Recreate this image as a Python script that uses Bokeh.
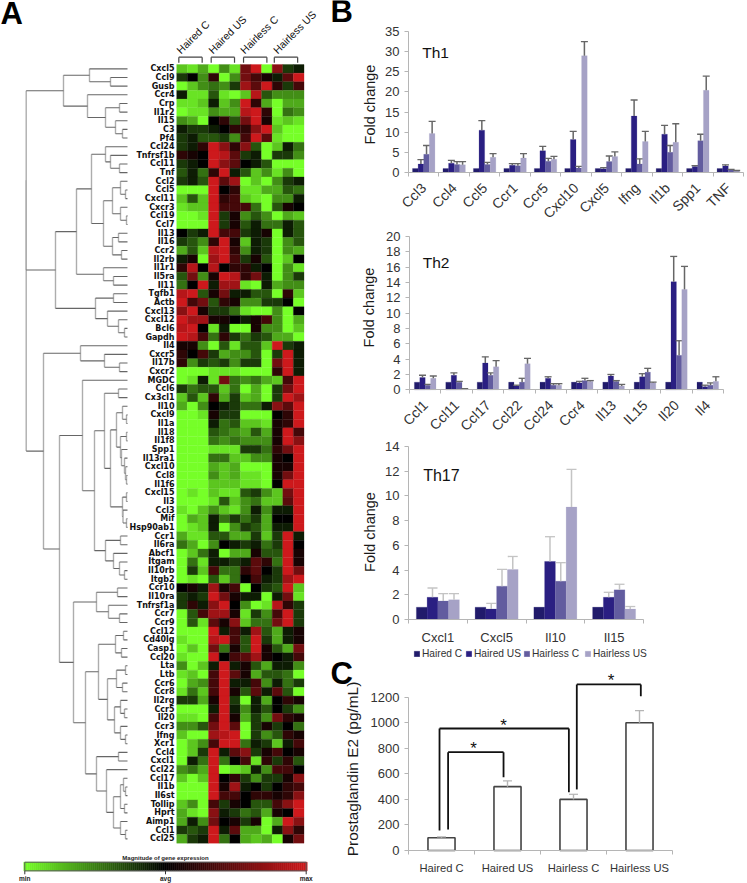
from bokeh.embed import file_html
from bokeh.resources import INLINE
from bokeh.core.properties import value
from bokeh.layouts import row, column
from bokeh.models import Range1d, FixedTicker, Label, Legend, LegendItem
from bokeh.plotting import figure

genes = ["Cxcl5","Ccl9","Gusb","Ccr4","Crp","Il1r2","Il15","C3","Pf4","Ccl24","Tnfrsf1b","Ccl11","Tnf","Ccl2","Ccl5",
 "Cxcl11","Cxcr3","Ccl19","Ccl7","Il13","Il16","Ccr2","Il2rb","Il1r1","Il5ra","Il11","Tgfb1","Actb","Cxcl13","Cxcl12",
 "Bcl6","Gapdh","Il4","Cxcr5","Il17b","Cxcr2","MGDC","Ccl6","Cx3cl1","Il10","Cxcl9","Il1a","Il18","Il1f8","Spp1",
 "Il13ra1","Cxcl10","Ccl8","Il1f6","Cxcl15","Il3","Ccl3","Mif","Hsp90ab1","Ccr1","Il6ra","Abcf1","Itgam","Il10rb","Itgb2",
 "Ccr10","Il10ra","Tnfrsf1a","Ccr7","Ccr9","Ccl12","Cd40lg","Casp1","Ccl20","Lta","Ltb","Ccr6","Ccr8","Il2rg","Ccr5",
 "Il20","Ccr3","Ifng","Xcr1","Ccl4","Cxcl1","Ccl22","Ccl17","Il1b","Il6st","Tollip","Hprt","Aimp1","Ccl1","Ccl25"]

heat_values = [
[-7,-8,-6,-9,-5,-8,5,9,-9,6,-2,-1],[-2,0,-5,2,-9,-5,5,3,1,-1,4,9],[-9,-7,-5,-4,-5,-2,7,4,9,2,-2,3],
[-1,-8,-8,-3,-8,-9,-7,8,-3,-5,-5,-5],[-8,-8,-7,-1,-7,-5,9,2,-6,-9,-6,-6],[-9,-8,-8,-5,-6,-6,8,9,2,-9,-4,-5],
[-5,-6,-9,0,2,-3,5,9,1,-8,-7,-8],[-1,-2,-2,-1,0,2,2,6,9,-7,-9,-9],[-2,-1,-3,-3,-2,-5,3,9,4,-8,-9,-9],
[-2,-1,2,9,6,2,6,-3,-9,-7,-1,-4],[2,1,0,9,8,4,-2,-1,-9,-2,-2,-5],[-2,-1,0,9,6,4,0,-1,-3,-9,-9,-9],
[-3,-1,-4,2,9,-1,-3,-7,-5,-8,-5,-9],[-2,-1,-3,9,4,7,-9,-7,-9,-5,-2,-1],[-9,-9,-9,9,0,2,-8,-8,-6,-6,-3,-4],
[-7,-3,-7,9,2,3,-7,-8,-9,-5,-5,-1],[-8,-7,-7,9,3,3,3,-4,-9,-3,1,0],[-9,-9,-8,9,-2,1,-5,-3,-5,-9,-6,-7],
[-9,-9,-9,9,-2,1,-3,-1,-4,-4,-1,-3],[0,-2,-1,9,3,3,-2,-1,1,-9,-1,-3],[-2,-3,-5,2,9,1,-7,-1,-2,-9,-5,-3],
[-6,-3,-7,8,9,2,-5,-1,-2,-9,-5,-6],[-1,1,-9,7,9,3,-2,1,-3,-9,-7,0],[2,8,0,8,0,2,2,-1,0,-9,-5,-8],
[-3,5,-5,1,9,8,2,5,-1,-9,-5,-2],[-4,0,9,-1,7,7,-8,-9,-1,-6,-5,-5],[8,9,-3,1,5,-1,-1,-3,-3,-9,2,-7],
[9,3,5,-3,2,1,-5,-5,-2,-2,0,-9],[6,9,1,-2,-2,-4,-8,-9,-9,-5,-9,0],[9,7,7,1,1,0,-1,1,3,-5,-9,-6],
[8,9,0,-8,-1,-9,-9,1,-5,-5,-9,-7],[9,8,3,-4,2,-2,-4,-2,-3,-6,-6,-9],[1,1,-5,-9,-3,-8,-3,-3,-7,9,-2,-1],
[2,0,3,-2,-6,-5,-5,-3,-9,-2,9,-1],[2,-5,-2,-3,-2,-5,-2,-2,-9,5,9,-1],[-9,-9,-9,-8,-8,-8,-9,-9,-9,2,9,-1],
[-9,-8,-1,-8,5,-4,-5,-4,-6,-7,3,9],[-2,-4,-3,-3,-7,-4,-9,-6,-9,-2,5,9],[-7,-3,-7,2,-6,-2,-7,-6,-9,-2,9,7],
[-6,-9,-5,0,-1,-2,-4,-4,-1,6,4,9],[-9,-9,-8,1,-2,-2,-9,-9,-9,0,2,9],[-9,-9,-9,-1,-4,-3,-7,-7,-8,1,2,9],
[-9,-9,-9,-3,-4,-5,-6,-3,-6,1,9,3],[-9,-9,-9,-4,-5,-4,-5,-5,-5,1,9,6],[-9,-9,-9,-8,-8,-8,-2,-2,-4,2,5,9],
[-9,-9,-9,-4,-4,-7,-7,-5,-5,1,0,9],[-9,-9,-9,-6,-7,-6,-9,-9,-9,1,1,9],[-9,-9,-9,-5,-7,-6,-8,-8,-9,1,5,9],
[-9,-9,-9,-7,-7,-7,-8,-8,-9,0,9,9],[-9,-8,-9,-7,-8,-8,-3,-2,-5,-7,5,9],[-9,-9,-9,-8,-3,-7,-5,-4,-7,-7,4,9],
[-8,-9,-7,-5,-7,-8,-5,-1,-5,-1,-1,9],[-9,-6,-7,-1,-4,-2,-4,-2,-6,0,0,9],[-9,-8,-7,-1,-9,-5,-2,-3,-6,-1,-1,9],
[-6,-8,-8,-3,-3,-6,-6,-2,-7,-2,9,-1],[-4,-6,-9,-5,0,-1,-2,-1,-4,-2,9,0],[-9,-7,-4,-1,-9,-6,-6,1,-3,-3,9,1],
[-9,-4,-8,-1,-1,-2,-1,4,2,-4,9,1],[-9,-2,-7,3,-4,-4,2,4,0,-2,9,5],[-9,-8,-9,-3,-7,-4,0,3,-1,-2,7,9],
[0,1,-1,7,1,3,-9,0,-2,-3,9,-7],[-2,-1,-2,9,5,1,-1,-1,-9,-1,5,-8],[-2,2,-1,6,9,0,-5,-9,-8,8,2,-2],
[-9,-3,3,7,7,1,-8,-2,-5,3,9,-2],[-9,-3,-8,4,1,6,-7,-4,-4,5,9,-2],[-9,-9,-9,9,-1,3,-1,7,-3,-6,-1,1],
[-8,-9,-9,8,9,3,-3,9,-2,-6,-1,1],[-9,-7,-9,5,-4,1,-3,9,1,-3,-6,5],[-8,-9,-9,9,0,3,4,7,1,0,-1,3],
[-5,-9,-7,-1,9,-1,1,-3,-6,-1,-1,-5],[-8,-7,-9,3,9,4,1,-6,-3,-3,-4,-9],[-9,-6,-5,3,9,-1,-1,3,-5,-1,-4,-2],
[-8,-4,-7,3,9,1,-3,4,-1,4,-3,-9],[-2,-2,-6,1,9,-2,-9,-1,-6,0,2,1],[-9,-9,-9,-1,9,-1,-5,-1,-3,0,-2,-5],
[-8,-8,-9,3,9,1,-6,-2,-5,5,2,1],[-5,-5,-3,5,9,4,-9,-2,1,-2,0,-4],[-7,-9,-9,7,8,9,-9,-2,-5,-3,2,1],
[-9,-7,-5,3,9,9,-4,-1,-2,-7,-1,3],[-9,-7,-2,9,-1,4,6,-2,1,3,0,1],[-9,-1,-4,9,-4,0,3,-8,2,-2,2,-3],
[-5,-4,-6,9,-9,-8,-7,-1,-5,3,3,0],[-7,-9,-7,9,0,2,-2,-5,-2,-2,1,6],[-9,-9,-9,9,1,7,-1,0,-2,0,2,3],
[-9,-9,-9,9,3,3,0,2,2,1,2,6],[-7,-5,-9,3,-2,1,0,-3,-3,3,6,9],[-6,-8,-9,6,-1,-2,-4,-3,-6,1,0,9],
[-6,-1,-5,5,0,1,-2,1,-9,-6,9,6],[-2,-3,-2,9,-1,4,-6,-6,-9,-1,6,2],[-6,-2,-1,9,-4,0,-6,-7,-6,-9,1,5],
]

groups = ["Haired  C", "Haired US", "Hairless C", "Hairless US"]
series = ["Haired C", "Haired US", "Hairless C", "Hairless US"]
series_colors = ["#211b6b", "#2a1f82", "#625c9f", "#a6a2c6"]

# dendrogram: (merge distance, child, child)
tree_a = (63, (89, "Cxcl5", (110, "Ccl9", "Gusb")),
          (87, "Ccr4", (105, (119, "Crp", "Il1r2"), (115, "Il15", (122, "C3", "Pf4")))))
tree_b1low = (103, (112, (120, "Ccl2", (125, "Ccl5", "Cxcl11")), (120, "Cxcr3", (126, "Ccl19", "Ccl7"))),
              (112, (118, "Il13", "Il16"), (121, "Ccr2", "Il2rb")))
tree_b1 = (76, (91, (105, "Ccl24", (110, "Tnfrsf1b", (119, "Ccl11", "Tnf"))), tree_b1low),
           (103, "Il1r1", (113, "Il5ra", "Il11")))
tree_b2 = (95, (113, "Tgfb1", "Actb"), (107, "Cxcl13", (118, "Cxcl12", (124, "Bcl6", "Gapdh"))))
tree_top = (25.7, tree_a, (55, tree_b1, tree_b2))
tree_c1 = (80, "Il4", (104, "Cxcr5", (119, "Il17b", "Cxcr2")))
tree_e = (104, (118, "Ccl6", "Cx3cl1"),
          (110, (116, (122, "Il10", (126, "Cxcl9", "Il1a")),
                 (120, (126, "Il18", "Il1f8"), (121, "Spp1", (124, "Il13ra1", (125, "Cxcl10", (126, "Ccl8", "Il1f6")))))),
           (122, (126, "Cxcl15", "Il3"), (122.5, "Ccl3", (126, "Mif", "Hsp90ab1")))))
tree_f = (105, (120, "Ccr1", "Il6ra"), (113, "Abcf1", (119, "Itgam", (124, "Il10rb", "Itgb2"))))
tree_d1 = (98, (115, (123, "Ccl12", "Cd40lg"), (121, "Casp1", "Ccl20")),
           (107, (116, (125, "Lta", "Ltb"), (122, "Ccr6", "Ccr8")),
            (114, (120, "Il2rg", (124, "Ccr5", "Il20")), (120, "Ccr3", (125, "Ifng", "Xcr1")))))
tree_d2 = (96, (118, "Ccl4", "Cxcl1"),
           (106, "Ccl22", (113, (120, (123, "Ccl17", (125, "Il1b", "Il6st")), (124, "Tollip", "Hprt")),
                           (120, "Aimp1", (125, "Ccl1", "Ccl25")))))
tree_c2 = (59, (82, "MGDC", (94, tree_e, tree_f)),
           (73, (96, (117, "Ccr10", "Il10ra"), (108, "Tnfrsf1a", (119, "Ccr7", "Ccr9"))), (85, tree_d1, tree_d2)))
tree_root = (25.7, tree_top, (43, tree_c1, tree_c2))
LEAF_END = 127

# Th1
th1_cats = ["Ccl3","Ccl4","Ccl5","Ccr1","Ccr5","Cxcl10","Cxcl5","Ifng","Il1b","Spp1","TNF"]
th1_a = [1,1,1,1,1,1,1,1,1,1,1]
th1_b = [2.1,2.3,10.5,1.8,5.4,8.2,0.9,14,9.5,1.5,1.6]
th1_c = [4.5,2,2,1.7,2.8,1.1,2.7,2.1,5,7.9,0.7]
th1_d = [9.7,1.9,3.8,3.6,3.3,29,4,7.7,7.5,20.4,0.4]
th1_b_top = [3.2,3,12.9,2.2,6.5,10.2,1.2,18,11.7,1.7,1.9]
th1_c_top = [6.7,2.7,2.5,2.2,3.5,1.5,4.1,3.4,6.7,9.5,0.8]
th1_d_top = [12.7,2.7,4.7,4.7,4,32.5,5.1,10.2,12.1,23.9,0.5]
th1_ticks = [0,5,10,15,20,25,30,35]

# Th2
th2_cats = ["Ccl1","Ccl11","Ccl17","Ccl22","Ccl24","Ccr4","Il13","IL15","Il20","Il4"]
th2_a = [1,1,1,1,1,1,1,1,1,1]
th2_b = [1.6,1.9,3.5,0.5,1.5,0.9,1.8,1.7,14.1,0.4]
th2_c = [0.6,1,1.9,1,0.6,1.2,1.1,2.3,4.5,0.6]
th2_d = [1.5,0.1,3,3.4,0.6,1.1,0.5,0.9,13.1,1.1]
th2_b_top = [1.9,2.2,4.3,0.6,1.7,1.1,2,2.1,17.4,0.6]
th2_c_top = [0.7,1.1,2.2,1.5,0.8,1.5,1.2,2.8,6.4,0.9]
th2_d_top = [1.8,0.15,3.8,4.1,0.8,1.2,0.7,1,16.1,1.7]
th2_ticks = [0,2,4,6,8,10,12,14,16,18,20]

# Th17
th17_cats = ["Cxcl1","Cxcl5","Il10","Il15"]
th17_a = [1,1,1,1]
th17_b = [1.8,0.85,4.7,1.8]
th17_c = [1.5,2.7,3.1,2.4]
th17_d = [1.6,4.05,9.1,0.85]
th17_b_top = [2.55,1.3,6.7,2.2]
th17_c_top = [2.1,4.05,4.6,2.85]
th17_d_top = [2.1,5.1,12.15,1.05]
th17_ticks = [0,2,4,6,8,10,12,14]

# Prostaglandin
pge_cats = ["Haired C","Haired US","Hairless C","Hairless US"]
pge_vals = [100,500,400,1000]
pge_tops = [107,545,440,1095]
pge_ticks = [0,200,400,600,800,1000,1200]
sig_left_x = [0.47, 0.60, 2.55]
sig_right_x = [2.43, 1.44, 3.52]
sig_top = [955, 770, 1300]
sig_left_bottom = [157, 165, 478]
sig_right_bottom = [456, 574, 1208]
sig_star_x = [1.44, 0.985, 3.07]
sig_star_y = [905, 725, 1255]

GREEN = (118, 255, 40)
RED = (205, 25, 28)

def heat_color(v):
    base = GREEN if v < 0 else RED
    k = abs(v) / 9.0
    return "#%02x%02x%02x" % tuple(int(round(c * k)) for c in base)

PT = "Liberation Sans"
ROW_PX = 8.652
COL_PX = 10.61

pa = figure(width=330, height=883, output_backend="svg", toolbar_location=None,
            x_range=Range1d(0, 330), y_range=Range1d((883 - 64) / ROW_PX, -64 / ROW_PX),
            min_border=0, outline_line_color=None)
pa.axis.visible = False
pa.grid.visible = False
pa.extra_x_ranges["cols"] = Range1d(-176.2 / COL_PX, (330 - 176.2) / COL_PX)
pa.extra_x_ranges["cbar"] = Range1d(-1 - 24.3 / 140.7, 1 + (330 - 305.7) / 140.7)

cx, cy, cc = [], [], []
for r, vals in enumerate(heat_values):
    for c, v in enumerate(vals):
        cx.append(c + 0.5)
        cy.append(r + 0.5)
        cc.append(heat_color(v))
pa.rect(x=cx, y=cy, width=1, height=1, fill_color=cc, line_color=cc, line_width=0.3, x_range_name="cols")

pa.text(x=[174] * len(genes), y=[i + 0.5 for i in range(len(genes))], text=genes, text_align="right",
        text_baseline="middle", text_font=value("DejaVu Sans"), text_font_style="bold", text_font_size="8px",
        text_color="#111111")

# dendrogram drawn from the tree
hx0, hx1, hy, vx, vy0, vy1 = [], [], [], [], [], []
def walk(node):
    if isinstance(node, str):
        return LEAF_END, genes.index(node) + 0.5
    h, *kids = node
    pts = [walk(k) for k in kids]
    for x, y in pts:
        hx0.append(h); hx1.append(x); hy.append(y)
    vx.append(h); vy0.append(pts[0][1]); vy1.append(pts[-1][1])
    return h, (pts[0][1] + pts[-1][1]) / 2
walk(tree_root)
pa.segment(x0=vx, y0=vy0, x1=vx, y1=vy1, line_color="#adadad", line_width=1.4)
pa.segment(x0=hx0, y0=hy, x1=hx1, y1=hy, line_color="#666666", line_width=1.1)

# group headers
head_x = [0.55, 3.55, 6.55, 9.65]
pa.text(x=head_x, y=[-1.0] * 4, text=groups, angle=45, angle_units="deg", text_align="left",
        text_baseline="bottom", text_font=value(PT), text_font_size="10.5px", text_color="#111111", x_range_name="cols")
br_x0 = [0.2, 3.25, 6.3, 9.2]
br_x1 = [2.4, 5.45, 8.5, 11.4]
pa.segment(x0=br_x0, y0=[-0.85] * 4, x1=br_x1, y1=[-0.85] * 4, line_color="#444444", line_width=1.2, x_range_name="cols")
pa.segment(x0=br_x0, y0=[-0.85] * 4, x1=br_x0, y1=[-0.2] * 4, line_color="#444444", line_width=1.2, x_range_name="cols")
pa.segment(x0=br_x1, y0=[-0.85] * 4, x1=br_x1, y1=[-0.2] * 4, line_color="#444444", line_width=1.2, x_range_name="cols")

# colour bar
cbar_steps = [i / 70 - 1 for i in range(141)]
cbar_colors = [heat_color(v * 9) for v in cbar_steps]
pa.rect(x=cbar_steps, y=[92.7] * 141, width=1 / 70, height=1.0, fill_color=cbar_colors, line_color=cbar_colors,
        line_width=0.5, x_range_name="cbar")
pa.rect(x=[0], y=[92.7], width=2, height=1.0, fill_color=None, line_color="#555555", line_width=1, x_range_name="cbar")
pa.segment(x0=[-1, 0, 1], y0=[93.2] * 3, x1=[-1, 0, 1], y1=[93.6] * 3, line_color="#333333", line_width=1, x_range_name="cbar")
pa.text(x=[-1, 0, 1], y=[94.1] * 3, text=["min", "avg", "max"], text_align="center", text_baseline="middle",
        text_font=value(PT), text_font_style="bold", text_font_size="6.5px", text_color="#222222", x_range_name="cbar")
pa.text(x=[0], y=[91.7], text=["Magnitude of gene expression"], text_align="center", text_baseline="middle",
        text_font=value(PT), text_font_style="bold", text_font_size="6px", text_color="#222222", x_range_name="cbar")


def big_letter(p, txt, x, y):
    p.add_layout(Label(x=x, y=y, x_units="screen", y_units="screen", text=txt, text_font=PT, text_font_style="bold",
                       text_font_size="31px", text_color="#000000", text_baseline="alphabetic"))


big_letter(pa, "A", 0, 870)


def panel(cats, ticks, height, left, right, top, bottom, rotate, ylabel, lab_x, lab_y, lab_size, xsize, ysize, standoff):
    n = len(cats)
    ymax = ticks[-1]
    ux = (417 - left - right) / n
    uy = (height - top - bottom) / ymax
    p = figure(width=417, height=height, output_backend="svg", toolbar_location=None,
               x_range=Range1d(-left / ux, n + right / ux), y_range=Range1d(-bottom / uy, ymax + top / uy),
               min_border=0, outline_line_color=None, border_fill_color=None, background_fill_color=None)
    p.grid.visible = False
    centers = [i + 0.5 for i in range(n)]
    p.xaxis.fixed_location = 0
    p.yaxis.fixed_location = 0
    p.xaxis.bounds = (0, n)
    p.xaxis.ticker = FixedTicker(ticks=centers, minor_ticks=list(range(n + 1)))
    p.xaxis.major_label_overrides = {c: name for c, name in zip(centers, cats)}
    p.xaxis.major_tick_line_color = None
    p.xaxis.minor_tick_line_color = "#b5b5b5"
    p.xaxis.minor_tick_out = 4
    p.xaxis.minor_tick_in = 0
    p.xaxis.axis_line_color = "#b5b5b5"
    p.xaxis.major_label_text_font = PT
    p.xaxis.major_label_text_font_size = xsize
    p.xaxis.major_label_text_color = "#333333"
    p.xaxis.major_label_standoff = standoff
    if rotate:
        p.xaxis.major_label_orientation = 0.785
    p.yaxis.ticker = FixedTicker(ticks=ticks)
    p.yaxis.minor_tick_line_color = None
    p.yaxis.major_tick_line_color = "#b5b5b5"
    p.yaxis.axis_line_color = "#b5b5b5"
    p.yaxis.major_tick_out = 4
    p.yaxis.major_tick_in = 0
    p.yaxis.major_label_text_font = PT
    p.yaxis.major_label_text_font_size = ysize
    p.yaxis.major_label_text_color = "#333333"
    p.yaxis.bounds = (0, ymax)
    p.add_layout(Label(x=lab_x, y=lab_y, x_units="screen", y_units="screen", text=ylabel, angle=90, angle_units="deg",
                       text_align="center", text_baseline="middle", text_font=PT, text_font_size=lab_size,
                       text_color="#1a1a1a"))
    return p


def bars(p, vals, tops, width, err_color, cap):
    rends = []
    n = len(vals[0])
    for s, v in enumerate(vals):
        xs = [i + 0.5 + (s - 1.5) * width for i in range(n)]
        rends.append(p.vbar(x=xs, top=v, bottom=0, width=width, fill_color=series_colors[s],
                            line_color=series_colors[s], line_width=0.2))
        if s > 0:
            t = tops[s - 1]
            p.segment(x0=xs, y0=v, x1=xs, y1=t, line_color=err_color, line_width=1.5)
            p.scatter(x=xs, y=t, marker="dash", size=cap, line_color=err_color, line_width=1.3)
    return rends


def tag(p, x, y, txt, size):
    p.text(x=[x], y=[y], text=[txt], text_align="left", text_baseline="middle", text_font=value(PT),
           text_font_size=size, text_color="#111111")


p1 = panel(th1_cats, th1_ticks, 224, 78, 4, 31, 52, True, "Fold change", 39, 120, "14.5px", "14px", "13px", 7)
bars(p1, [th1_a, th1_b, th1_c, th1_d], [th1_b_top, th1_c_top, th1_d_top], 0.184, "#666666", 7)
tag(p1, 0.45, 29.8, "Th1", "15.5px")
big_letter(p1, "B", 0, 213)

p2 = panel(th2_cats, th2_ticks, 230, 79, 24, 24, 52.7, True, "Fold change", 38, 135, "14.5px", "14px", "13px", 7)
p2.margin = (-12, 0, 0, 0)
bars(p2, [th2_a, th2_b, th2_c, th2_d], [th2_b_top, th2_c_top, th2_d_top], 0.172, "#666666", 7)
tag(p2, 0.42, 16.6, "Th2", "15.5px")

p3 = panel(th17_cats, th17_ticks, 230, 78, 104, 16, 41, False, "Fold change", 39, 128.5, "14.5px", "13px", "13px", 4)
p3.margin = (-12, 0, 0, 0)
r3 = bars(p3, [th17_a, th17_b, th17_c, th17_d], [th17_b_top, th17_c_top, th17_d_top], 0.183, "#c4c4c4", 10)
tag(p3, 0.25, 11.65, "Th17", "16px")
legend_x = [83, 135, 193, 254]
for s, r, lx in zip(series, r3, legend_x):
    p3.add_layout(Legend(items=[LegendItem(label=s, renderers=[r])], orientation="horizontal",
                         location=(lx, 1), glyph_width=7, glyph_height=7, label_standoff=2, spacing=0, padding=0,
                         margin=0, border_line_color=None, background_fill_alpha=0, label_text_font=PT,
                         label_text_font_size="10.2px", label_text_color="#333333", label_height=8))

pc = panel(pge_cats, pge_ticks, 223, 78, 75, 36.7, 33, False, "Prostaglandin E2 (pg/mL)", 22, 114.5, "15.4px", "11.2px", "13px", 5)
xs_c = [i + 0.5 for i in range(4)]
pc.vbar(x=xs_c, top=pge_vals, bottom=0, width=0.41, fill_color="#ffffff", line_color="#444444", line_width=1.6)
pc.segment(x0=xs_c, y0=pge_vals, x1=xs_c, y1=pge_tops, line_color="#b5b5b5", line_width=1.4)
pc.scatter(x=xs_c, y=pge_tops, marker="dash", size=9, line_color="#b5b5b5", line_width=1.2)
pc.segment(x0=sig_left_x, y0=sig_left_bottom, x1=sig_left_x, y1=sig_top, line_color="#111111", line_width=1.8)
pc.segment(x0=sig_right_x, y0=sig_right_bottom, x1=sig_right_x, y1=sig_top, line_color="#111111", line_width=1.8)
pc.segment(x0=sig_left_x, y0=sig_top, x1=sig_right_x, y1=sig_top, line_color="#111111", line_width=1.8)
pc.text(x=sig_star_x, y=sig_star_y, text=["*", "*", "*"], text_align="center", text_baseline="bottom",
        text_font=value(PT), text_font_size="17px", text_color="#111111")
big_letter(pc, "C", 0, 210)

layout = row(pa, column(p1, p2, p3, pc, spacing=0), spacing=0)
open("out.html", "w").write(file_html(layout, INLINE))
